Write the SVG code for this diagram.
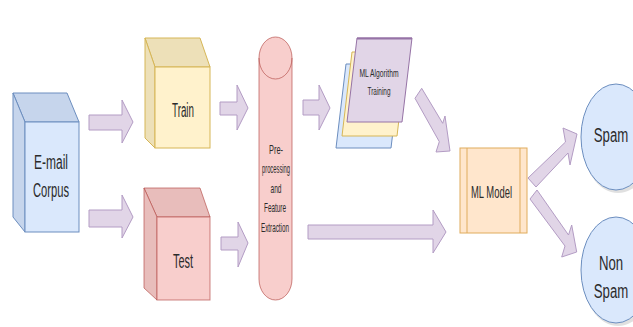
<svg xmlns="http://www.w3.org/2000/svg" width="633" height="327" viewBox="0 0 633 327">
<defs>
<style>
text{font-family:"Liberation Sans",Arial,Helvetica,sans-serif;fill:#2b2b2b;text-anchor:middle;}
.arr{fill:#e1d5e7;stroke:#b39cc4;stroke-width:1;stroke-linejoin:round;}
.blue{fill:#dae8fc;stroke:#6c8ebf;stroke-width:1;}
.blueD{fill:#c6d5ec;stroke:#6c8ebf;stroke-width:1;}
.yel{fill:#fff2cc;stroke:#d6b656;stroke-width:1;}
.yelD{fill:#ede0b8;stroke:#d6b656;stroke-width:1;}
.red{fill:#f8cecc;stroke:#b85450;stroke-width:1;stroke-opacity:0.7;}
.redD{fill:#e8bdbb;stroke:#b85450;stroke-width:1;stroke-opacity:0.7;}
.pur{fill:#e1d5e7;stroke:#9673a6;stroke-width:1;}
.org{fill:#ffe6cc;stroke:#e0ac5c;stroke-width:1;}
</style>
</defs>
<rect width="633" height="327" fill="#ffffff"/>

<g id="connectors">
<polygon class="arr" points="89,115 122,115 122,100 133,122 122,143 122,130 89,130"/>
<polygon class="arr" points="89,210 122,210 122,195 133,217 122,238 122,227 89,227"/>
<polygon class="arr" points="220,102 237,102 237,85 248,108 237,130 237,115 220,115"/>
<polygon class="arr" points="221,237 238,237 238,222 248,243 238,267 238,250 221,250"/>
<polygon class="arr" points="303,100 319,100 319,85 330,108 319,130 319,115 303,115"/>
<polygon class="arr" points="308,225 433,225 433,210 446,232 433,253 433,239 308,239"/>
<polygon class="arr" points="421.7,88.3 442.7,123.3 445,116 450,151 436,152 439.3,141.7 415,98.3"/>
<polygon class="arr" points="528,178 565.5,142 563,128 577,134 570,165 568,153 536,187"/>
<polygon class="arr" points="537,190 568.5,235 571.7,225 576.7,252 561.7,257 565,246 530,199"/>
</g>

<g id="email-corpus">
<polygon class="blueD" points="13,93 67,93 79,122 25,122"/>
<polygon class="blueD" points="13,93 25,122 25,232 13,217"/>
<rect class="blue" x="25" y="122" width="54" height="110"/>
<text x="51" y="169" font-size="20" textLength="34" lengthAdjust="spacingAndGlyphs">E-mail</text>
<text x="51" y="197" font-size="20" textLength="36" lengthAdjust="spacingAndGlyphs">Corpus</text>
</g>

<g id="train">
<polygon class="yelD" points="145,38 200,38 210,67 155,67"/>
<polygon class="yelD" points="145,38 155,67 155,148 145,138"/>
<rect class="yel" x="155" y="67" width="55" height="81"/>
<text x="183" y="117" font-size="20" textLength="22" lengthAdjust="spacingAndGlyphs">Train</text>
</g>

<g id="test">
<polygon class="redD" points="144,188 200,188 210,217 157,217"/>
<polygon class="redD" points="144,188 157,217 157,300 144,288"/>
<rect class="red" x="157" y="217" width="53" height="83"/>
<text x="183" y="268" font-size="20" textLength="20" lengthAdjust="spacingAndGlyphs">Test</text>
</g>

<g id="preprocessing">
<path class="red" d="M259,58 A16.5,21 0 0 1 292,58 L292,279 A16.5,21 0 0 1 259,279 Z"/>
<path d="M259,58 A16.5,21 0 0 0 292,58" fill="none" stroke="#b85450" stroke-opacity="0.7"/>
<text x="276" y="154" font-size="13" textLength="14" lengthAdjust="spacingAndGlyphs">Pre-</text>
<text x="276" y="173" font-size="13" textLength="28" lengthAdjust="spacingAndGlyphs">processing</text>
<text x="276" y="193" font-size="13" textLength="11" lengthAdjust="spacingAndGlyphs">and</text>
<text x="275" y="212" font-size="13" textLength="22" lengthAdjust="spacingAndGlyphs">Feature</text>
<text x="275" y="232" font-size="13" textLength="28" lengthAdjust="spacingAndGlyphs">Extraction</text>
</g>

<g id="ml-algorithm-training">
<polygon class="blue" points="346,64 401,64 391,148 336,148"/>
<polygon class="yel" points="352,52 407,52 397,136 342,136"/>
<polygon class="pur" points="357,38 412,38 402,122 347,122"/>
<line x1="357" y1="38.5" x2="412" y2="38.5" stroke="#9673a6" stroke-width="2"/>
<text x="379" y="77" font-size="11.5" textLength="39" lengthAdjust="spacingAndGlyphs">ML Algorithm</text>
<text x="379" y="95" font-size="11.5" textLength="23" lengthAdjust="spacingAndGlyphs">Training</text>
</g>

<g id="ml-model">
<rect class="org" x="460" y="148" width="67" height="85"/>
<line x1="467" y1="148" x2="467" y2="233" stroke="#e0ac5c"/>
<line x1="520" y1="148" x2="520" y2="233" stroke="#e0ac5c"/>
<text x="491.5" y="198" font-size="16" textLength="41" lengthAdjust="spacingAndGlyphs">ML Model</text>
</g>

<g id="spam">
<ellipse cx="618" cy="140" rx="36" ry="53" fill="#000" opacity="0.12"/>
<ellipse class="blue" cx="616" cy="137" rx="35" ry="53"/>
<text transform="translate(611,142) scale(0.66,1)" font-size="20">Spam</text>
</g>

<g id="non-spam">
<ellipse cx="618" cy="273" rx="36" ry="53" fill="#000" opacity="0.12"/>
<ellipse class="blue" cx="616" cy="270" rx="35" ry="53"/>
<text transform="translate(611,270) scale(0.66,1)" font-size="20">Non</text>
<text transform="translate(611,298) scale(0.66,1)" font-size="20">Spam</text>
</g>
</svg>
